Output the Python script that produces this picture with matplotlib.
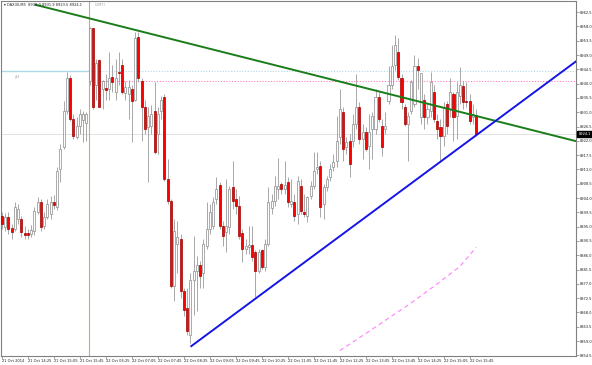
import numpy as np
import matplotlib
matplotlib.use("Agg")
import matplotlib.pyplot as plt
from matplotlib.ticker import FormatStrFormatter
from matplotlib.transforms import blended_transform_factory

# ==========================
# DATOS (DAX30, M5)
# ==========================

opens = [
    8898.4, 8895.0, 8898.1, 8894.7, 8894.3, 8897.5, 8897.5, 8893.1, 8893.1, 8892.8,
    8893.7, 8899.7, 8902.8, 8895.3, 8898.1, 8899.0, 8902.8, 8901.2, 8913.1, 8920.0,
    8931.3, 8941.9, 8928.8, 8923.1, 8926.6, 8928.5, 8927.5, 8940.7, 8957.6, 8939.7,
    8947.3, 8938.2, 8938.5, 8938.2, 8942.2, 8937.5, 8943.8, 8946.0, 8937.2, 8936.6,
    8938.2, 8935.0, 8954.8, 8940.7, 8932.5, 8926.3, 8926.6, 8931.3, 8924.1, 8931.3,
    8935.7, 8910.0, 8903.1, 8876.2, 8889.6, 8891.2, 8874.6, 8869.3, 8860.8, 8878.1,
    8881.2, 8882.8, 8880.3, 8889.0, 8894.3, 8895.3, 8903.7, 8908.1, 8895.3, 8893.4,
    8895.0, 8907.5, 8903.7, 8901.5, 8893.1, 8888.1, 8888.7, 8889.3, 8887.1, 8880.9,
    8887.8, 8882.4, 8889.6, 8900.9, 8903.1, 8906.9, 8908.4, 8906.9, 8909.1, 8902.2,
    8902.8, 8899.0, 8907.8, 8899.7, 8898.4, 8904.7, 8907.8, 8913.1, 8914.1, 8902.2,
    8907.5, 8910.6, 8913.8, 8915.6, 8923.1, 8931.0, 8920.0, 8921.9, 8921.9, 8927.2,
    8932.8, 8922.5, 8924.7, 8920.3, 8925.6, 8925.6, 8935.7, 8926.6, 8925.6, 8934.4,
    8939.7, 8946.0, 8950.1, 8941.9, 8932.5, 8927.2, 8931.3, 8933.5, 8945.4, 8929.4,
    8935.0, 8929.4, 8931.3, 8937.5, 8928.2, 8926.3, 8923.5, 8933.5, 8931.9, 8936.6,
    8929.7, 8936.0, 8939.1, 8934.4, 8934.4, 8929.4, 8930.0,
]

highs = [
    8899.7, 8899.4, 8899.7, 8895.9, 8902.8, 8902.2, 8898.4, 8895.3, 8894.3, 8895.6,
    8901.2, 8904.4, 8903.7, 8899.7, 8903.7, 8904.7, 8905.0, 8913.8, 8921.0, 8934.4,
    8943.8, 8942.6, 8930.3, 8929.4, 8931.9, 8931.3, 8931.0, 8957.8, 8957.6, 8947.6,
    8947.6, 8941.3, 8942.9, 8950.1, 8946.0, 8947.6, 8950.1, 8947.6, 8940.7, 8941.3,
    8939.7, 8956.3, 8956.3, 8941.9, 8935.0, 8932.5, 8933.2, 8940.4, 8932.5, 8936.0,
    8936.6, 8916.3, 8903.7, 8897.5, 8896.8, 8892.8, 8875.6, 8875.6, 8880.3, 8892.1,
    8885.9, 8884.3, 8891.2, 8902.8, 8902.2, 8904.4, 8910.6, 8909.1, 8896.8, 8910.0,
    8907.8, 8915.6, 8906.9, 8904.7, 8894.3, 8891.2, 8895.3, 8895.3, 8887.5, 8888.1,
    8888.1, 8891.2, 8907.5, 8905.3, 8910.9, 8916.6, 8909.1, 8915.6, 8910.6, 8910.0,
    8905.3, 8910.9, 8910.0, 8905.3, 8904.7, 8909.4, 8918.4, 8918.4, 8915.6, 8908.4,
    8910.9, 8914.7, 8917.8, 8929.7, 8938.2, 8932.8, 8923.1, 8924.1, 8930.3, 8942.9,
    8934.1, 8927.2, 8926.3, 8930.3, 8931.0, 8938.2, 8937.5, 8928.8, 8931.0, 8945.4,
    8952.3, 8955.4, 8954.5, 8942.9, 8933.5, 8931.0, 8941.3, 8949.1, 8948.2, 8943.5,
    8936.6, 8933.5, 8943.8, 8939.7, 8930.3, 8928.8, 8934.1, 8934.4, 8941.9, 8937.5,
    8940.4, 8945.1, 8940.7, 8940.4, 8936.6, 8933.5, 8931.9,
]

lows = [
    8894.3, 8893.7, 8892.8, 8891.2, 8893.7, 8895.9, 8891.8, 8891.2, 8891.2, 8891.8,
    8892.5, 8899.0, 8893.7, 8894.3, 8897.5, 8897.5, 8900.6, 8900.3, 8909.1, 8919.4,
    8930.3, 8928.2, 8922.5, 8922.5, 8924.1, 8921.6, 8921.9, 8939.7, 8931.9, 8935.0,
    8932.5, 8931.9, 8935.0, 8935.0, 8937.5, 8935.0, 8939.7, 8936.6, 8935.0, 8928.8,
    8921.6, 8934.4, 8940.4, 8921.9, 8924.1, 8909.1, 8924.1, 8917.8, 8917.8, 8928.8,
    8909.4, 8902.2, 8875.6, 8871.5, 8880.3, 8872.4, 8866.8, 8860.8, 8858.3, 8867.1,
    8868.4, 8875.6, 8875.6, 8888.1, 8892.8, 8894.3, 8902.2, 8894.3, 8889.0, 8887.1,
    8892.8, 8900.6, 8899.0, 8891.2, 8884.0, 8886.5, 8886.5, 8884.3, 8873.0, 8880.3,
    8881.8, 8881.2, 8889.0, 8899.0, 8901.5, 8903.7, 8905.3, 8905.3, 8901.2, 8901.2,
    8896.8, 8895.9, 8899.0, 8898.1, 8896.5, 8903.7, 8906.9, 8911.6, 8898.1, 8897.5,
    8906.2, 8909.4, 8912.5, 8913.8, 8921.0, 8915.6, 8917.8, 8910.6, 8920.0, 8925.6,
    8921.0, 8916.3, 8918.8, 8913.1, 8916.3, 8924.1, 8927.8, 8917.2, 8924.1, 8933.5,
    8938.2, 8944.4, 8941.3, 8931.9, 8926.6, 8915.6, 8930.3, 8932.5, 8938.2, 8927.2,
    8925.6, 8927.2, 8929.4, 8927.8, 8922.5, 8915.3, 8920.3, 8924.1, 8929.4, 8921.9,
    8922.5, 8933.5, 8931.9, 8932.5, 8927.2, 8927.2, 8923.5,
]

closes = [
    8895.9, 8898.1, 8894.3, 8893.4, 8901.2, 8900.6, 8893.4, 8892.5, 8892.5, 8894.0,
    8900.0, 8902.8, 8895.0, 8898.1, 8902.2, 8902.8, 8901.9, 8912.5, 8919.4, 8931.3,
    8941.9, 8928.8, 8923.5, 8926.6, 8930.3, 8930.3, 8930.6, 8957.6, 8932.8, 8946.6,
    8932.8, 8940.7, 8937.9, 8941.9, 8940.4, 8941.9, 8943.5, 8937.5, 8938.8, 8938.8,
    8934.4, 8954.5, 8941.9, 8932.5, 8925.6, 8929.7, 8930.3, 8918.4, 8930.3, 8935.0,
    8910.0, 8903.1, 8876.2, 8893.7, 8891.8, 8874.6, 8868.7, 8862.1, 8878.1, 8881.2,
    8882.8, 8879.6, 8889.6, 8894.3, 8899.7, 8902.8, 8906.9, 8895.3, 8892.1, 8895.3,
    8906.9, 8903.1, 8901.5, 8892.1, 8888.1, 8889.0, 8889.3, 8885.6, 8881.2, 8887.1,
    8882.4, 8889.6, 8902.8, 8903.1, 8907.8, 8907.8, 8906.9, 8908.1, 8902.8, 8903.1,
    8898.4, 8909.4, 8900.0, 8899.0, 8904.4, 8907.8, 8912.5, 8913.8, 8901.2, 8907.5,
    8910.0, 8913.1, 8915.3, 8921.9, 8931.9, 8919.4, 8921.6, 8914.7, 8927.2, 8932.5,
    8922.5, 8924.7, 8919.4, 8924.7, 8929.7, 8935.7, 8928.8, 8920.0, 8926.6, 8939.7,
    8945.4, 8952.3, 8942.2, 8934.1, 8927.2, 8929.7, 8940.4, 8945.4, 8944.4, 8943.5,
    8929.4, 8931.9, 8940.4, 8928.8, 8925.6, 8923.5, 8932.8, 8926.6, 8937.5, 8929.4,
    8937.5, 8939.7, 8934.1, 8934.1, 8928.2, 8930.3, 8924.1,
]

x_labels = [
    "21 Oct 2014", "21 Oct 14:25", "21 Oct 15:05", "21 Oct 15:45",
    "22 Oct 06:25", "22 Oct 07:05", "22 Oct 07:45", "22 Oct 08:25",
    "22 Oct 09:05", "22 Oct 09:45", "22 Oct 10:25", "22 Oct 11:05",
    "22 Oct 11:45", "22 Oct 12:25", "22 Oct 13:05", "22 Oct 13:45",
    "22 Oct 14:25", "22 Oct 15:05", "22 Oct 15:45",
]
label_step = 8

# lineas de tendencia (barra, precio)
green_x = [10.4, 176.7]
green_y = [8964.8, 8921.9]
blue_x = [58.3, 176.7]
blue_y = [8857.4, 8947.0]

# indicador rosa
pink_x = [104, 110, 118, 126, 134, 141, 146]
pink_y = [8856.0, 8860.0, 8865.5, 8871.0, 8877.0, 8882.5, 8888.5]

yesterday_high = 8943.9
pink_level = 8940.8
pink_level_start = 30.4
day_break = 26.8
last_price = closes[-1]

# ==========================
# FIGURA
# ==========================

fig = plt.figure(figsize=(5.92, 3.65), dpi=100)
fig.patch.set_facecolor("white")
ax = fig.add_axes([1 / 592, 9 / 365, 575 / 592, 355 / 365])

x = np.arange(len(closes))
o = np.array(opens)
c = np.array(closes)
up = c >= o

ax.vlines(x, lows, highs, color="#9a9a9a", linewidth=0.6, zorder=2)
ax.bar(x[up], (c - o)[up], bottom=o[up], width=0.62,
       color="white", edgecolor="#8a8a8a", linewidth=0.5, zorder=3)
ax.bar(x[~up], (o - c)[~up], bottom=c[~up], width=0.62,
       color="#ff0000", edgecolor="#9b0000", linewidth=0.5, zorder=3)

# niveles horizontales
ax.axhline(last_price, color="#dcdcdc", linewidth=0.6, zorder=1)
ax.plot([-1, day_break], [yesterday_high, yesterday_high],
        color="#add8e6", linewidth=1.0, zorder=1)
ax.plot([day_break, 180], [yesterday_high, yesterday_high],
        color="#add8e6", linewidth=0.8, linestyle=(0, (1, 1.5)), zorder=1)
ax.plot([pink_level_start, 180], [pink_level, pink_level],
        color="#ff80c0", linewidth=0.8, linestyle=(0, (1, 1.5)), zorder=1)
ax.axvline(day_break, color="#bdb56a", linewidth=0.8, zorder=1)

ax.plot(pink_x, pink_y, color="#ff80ff", linewidth=0.8,
        linestyle=(0, (4, 3)), zorder=4)

ax.plot(green_x, green_y, color="#1a7d1a", linewidth=1.4, zorder=5)
ax.plot(blue_x, blue_y, color="#1515e6", linewidth=1.4, zorder=5)

ax.text(4, yesterday_high - 1.2, "yH", fontsize=2.7, color="#909090",
        va="top", ha="left")

# ==========================
# EJES
# ==========================

ax.set_xlim(-0.25, 176.7)
ax.set_ylim(8854.3, 8966.0)

ax.yaxis.tick_right()
ax.set_yticks(np.arange(8854.5, 8963.0, 4.5))
ax.yaxis.set_major_formatter(FormatStrFormatter("%.1f"))
ax.tick_params(axis="y", labelsize=2.6, length=2, width=0.5,
               color="#808080", pad=1.0, labelcolor="#202020")

ax.set_xticks(np.arange(len(x_labels)) * label_step)
ax.set_xticklabels(x_labels)
for lab in ax.get_xticklabels():
    lab.set_ha("left")
ax.tick_params(axis="x", labelsize=2.6, length=2, width=0.5,
               color="#808080", pad=0.3, labelcolor="#202020")

for s in ax.spines.values():
    s.set_color("#808080")
    s.set_linewidth(0.8)

tr = blended_transform_factory(ax.transAxes, ax.transData)
ax.text(1.004, last_price, f"{last_price:.1f}", transform=tr,
        fontsize=2.6, color="white", va="center", ha="left",
        bbox=dict(facecolor="black", edgecolor="black", pad=0.6))

fig.text(0.006, 0.993, "\u25be DAX30,M5  8930.0 8931.9 8923.5 8924.1",
         fontsize=2.6, color="#202020", va="top", ha="left")
fig.text(0.16, 0.993, "(GMT)", fontsize=2.6, color="#a0a0a0",
         va="top", ha="left")

fig.savefig("out.png", dpi=100)
plt.close()
